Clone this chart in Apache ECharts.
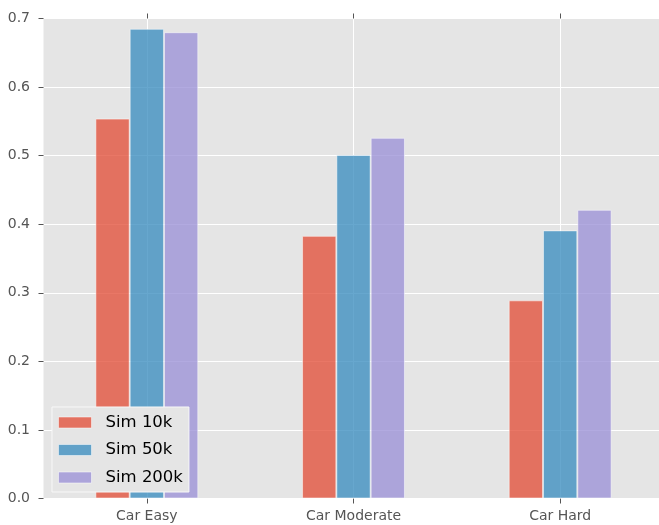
<!DOCTYPE html>
<html>
<head>
<meta charset="utf-8">
<script src="https://cdn.jsdelivr.net/npm/echarts@6/dist/echarts.min.js"></script>
<style>
html,body{margin:0;padding:0;background:#fff;overflow:hidden;width:659px;height:525px;}
#chart{width:670px;height:525px;}
</style>
</head>
<body>
<div id="chart"></div>
<script>
var categories = ['Car Easy', 'Car Moderate', 'Car Hard'];
var seriesNames = ['Sim 10k', 'Sim 50k', 'Sim 200k'];
var sim10k = [0.554, 0.383, 0.289];
var sim50k = [0.685, 0.501, 0.391];
var sim200k = [0.680, 0.526, 0.421];
var yTicks = [0.0, 0.1, 0.2, 0.3, 0.4, 0.5, 0.6, 0.7];

var colors = ['rgba(226,74,51,0.75)', 'rgba(52,138,189,0.75)', 'rgba(152,142,213,0.75)'];
var values = [sim10k, sim50k, sim200k];
var font = 'DejaVu Sans';

var chart = echarts.init(document.getElementById('chart'));
chart.setOption({
  animation: false,
  grid: {
    left: 43.5, top: 18.5, width: 620, bottom: 26.5,
    outerBoundsMode: 'none',
    show: true, backgroundColor: '#E5E5E5', borderWidth: 0
  },
  legend: {
    orient: 'vertical',
    left: 52, top: 407,
    padding: [7, 6, 6, 6],
    itemWidth: 33, itemHeight: 11, itemGap: 10.5,
    backgroundColor: '#E5E5E5',
    borderColor: '#F8F8F8', borderWidth: 1, borderRadius: 0,
    icon: 'rect',
    itemStyle: { borderColor: 'rgba(255,255,255,0.5)', borderWidth: 1 },
    textStyle: { fontFamily: font, fontSize: 16.5, color: '#000', lineHeight: 16, padding: [0, 0, 0, 9] },
    data: seriesNames
  },
  xAxis: [{
    type: 'category',
    data: categories,
    position: 'bottom',
    axisLine: { show: false },
    axisTick: { show: true, alignWithLabel: true, length: 5, lineStyle: { color: '#555' } },
    axisLabel: { fontFamily: font, fontSize: 14, color: '#555', margin: 10.5 },
    splitLine: { show: true, alignWithLabel: true, lineStyle: { color: '#fff', width: 1 } }
  }, {
    type: 'category',
    data: categories,
    position: 'top',
    axisLine: { show: false },
    axisTick: { show: true, alignWithLabel: true, length: 5, lineStyle: { color: '#555' } },
    axisLabel: { show: false },
    splitLine: { show: false }
  }],
  yAxis: {
    type: 'value',
    min: 0, max: 0.7, interval: 0.1,
    axisLine: { show: false },
    axisTick: { show: true, length: 5, lineStyle: { color: '#555' } },
    axisLabel: {
      fontFamily: font, fontSize: 14, color: '#555', margin: 13.5,
      formatter: function (v) {
        var t = yTicks.find(function (x) { return Math.abs(x - v) < 1e-9; });
        return (t !== undefined ? t : v).toFixed(1);
      }
    },
    splitLine: { show: true, lineStyle: { color: '#fff', width: 1 } }
  },
  series: seriesNames.map(function (name, i) {
    return {
      name: name,
      type: 'bar',
      xAxisIndex: 0,
      data: values[i],
      barWidth: 34.3,
      barGap: 0,
      itemStyle: { color: colors[i], borderColor: 'rgba(255,255,255,0.5)', borderWidth: 1 }
    };
  })
});
</script>
</body>
</html>
